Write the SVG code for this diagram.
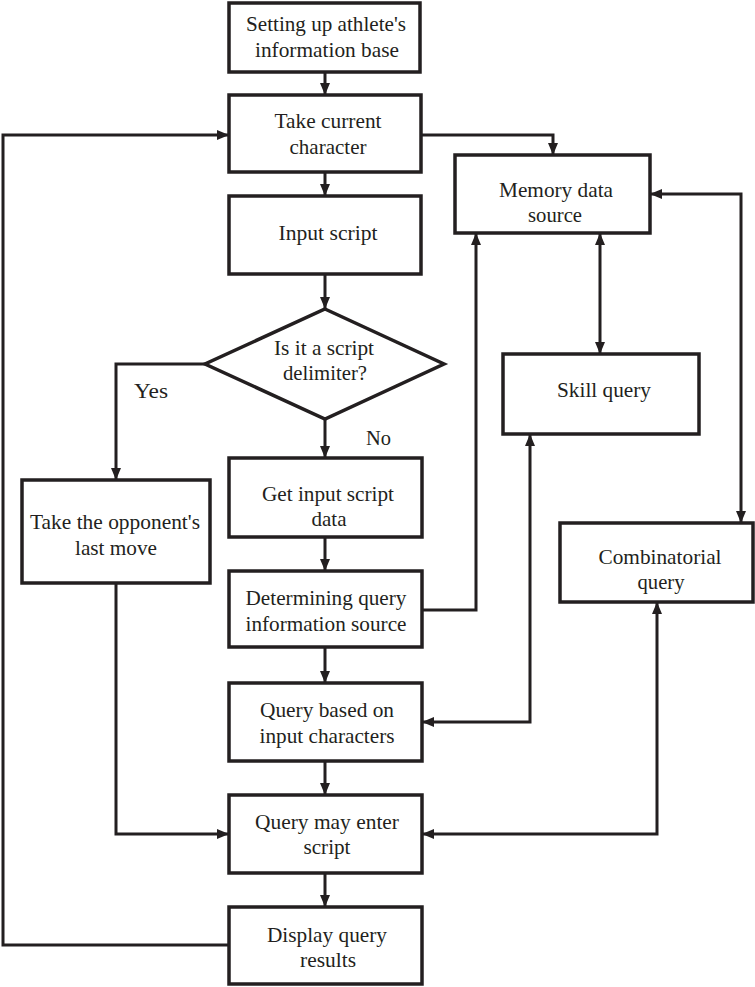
<svg xmlns="http://www.w3.org/2000/svg" width="755" height="987" viewBox="0 0 755 987">
<style>
.box{fill:#fff;stroke:#231f20;stroke-width:3.5}
.ln{fill:none;stroke:#231f20;stroke-width:3}
text{font-family:"Liberation Serif","Times New Roman",serif;font-size:22px;fill:#231f20;text-anchor:middle}
.lbl{text-anchor:start}
</style>
<defs>
<marker id="ah" markerUnits="userSpaceOnUse" viewBox="0 0 12 10" refX="12" refY="5" markerWidth="12" markerHeight="10" orient="auto-start-reverse">
<path d="M0,0 L12,5 L0,10 z" fill="#231f20"/>
</marker>
</defs>
<rect width="755" height="987" fill="#fff"/>
<g id="connectors">
<path class="ln" d="M325,72 V95" marker-end="url(#ah)"/>
<path class="ln" d="M325,172 V196" marker-end="url(#ah)"/>
<path class="ln" d="M325,274 V309" marker-end="url(#ah)"/>
<path class="ln" d="M205,364 H116 V480" marker-end="url(#ah)"/>
<path class="ln" d="M325,419 V458" marker-end="url(#ah)"/>
<path class="ln" d="M325,537 V571" marker-end="url(#ah)"/>
<path class="ln" d="M325,647 V683" marker-end="url(#ah)"/>
<path class="ln" d="M325,761 V795" marker-end="url(#ah)"/>
<path class="ln" d="M325,873 V907" marker-end="url(#ah)"/>
<path class="ln" d="M229,945 H3 V135 H229" marker-end="url(#ah)"/>
<path class="ln" d="M116,583 V834 H229" marker-end="url(#ah)"/>
<path class="ln" d="M421,135 H553 V155" marker-end="url(#ah)"/>
<path class="ln" d="M422,610 H476 V233" marker-end="url(#ah)"/>
<path class="ln" d="M600,233 V354" marker-start="url(#ah)" marker-end="url(#ah)"/>
<path class="ln" d="M530,434 V722 H422" marker-start="url(#ah)" marker-end="url(#ah)"/>
<path class="ln" d="M650,194 H741 V523" marker-start="url(#ah)" marker-end="url(#ah)"/>
<path class="ln" d="M657,602 V834 H422" marker-start="url(#ah)" marker-end="url(#ah)"/>
</g>
<g id="n1"><rect class="box" x="229" y="3" width="191" height="69"/><text x="326" y="31" textLength="160" lengthAdjust="spacingAndGlyphs">Setting up athlete's</text><text x="327" y="57" textLength="144" lengthAdjust="spacingAndGlyphs">information base</text></g>
<g id="n2"><rect class="box" x="229" y="95" width="192" height="77"/><text x="328" y="128" textLength="107" lengthAdjust="spacingAndGlyphs">Take current</text><text x="328" y="154" textLength="77" lengthAdjust="spacingAndGlyphs">character</text></g>
<g id="n3"><rect class="box" x="229" y="196" width="192" height="78"/><text x="328" y="240" textLength="99" lengthAdjust="spacingAndGlyphs">Input script</text></g>
<g id="n4"><polygon class="box" points="325,309 444,364 325,419 205,364"/><text x="324" y="355" textLength="100" lengthAdjust="spacingAndGlyphs">Is it a script</text><text x="325" y="380" textLength="84" lengthAdjust="spacingAndGlyphs">delimiter?</text></g>
<g id="n5"><rect class="box" x="22" y="480" width="188" height="103"/><text x="115" y="529" textLength="170" lengthAdjust="spacingAndGlyphs">Take the opponent's</text><text x="116" y="555" textLength="82" lengthAdjust="spacingAndGlyphs">last move</text></g>
<g id="n6"><rect class="box" x="229" y="458" width="193" height="79"/><text x="328" y="501" textLength="132" lengthAdjust="spacingAndGlyphs">Get input script</text><text x="329" y="526" textLength="35" lengthAdjust="spacingAndGlyphs">data</text></g>
<g id="n7"><rect class="box" x="229" y="571" width="193" height="76"/><text x="326" y="605" textLength="161" lengthAdjust="spacingAndGlyphs">Determining query</text><text x="326" y="631" textLength="161" lengthAdjust="spacingAndGlyphs">information source</text></g>
<g id="n8"><rect class="box" x="229" y="683" width="193" height="78"/><text x="327" y="717" textLength="134" lengthAdjust="spacingAndGlyphs">Query based on</text><text x="327" y="743" textLength="135" lengthAdjust="spacingAndGlyphs">input characters</text></g>
<g id="n9"><rect class="box" x="229" y="795" width="193" height="78"/><text x="327" y="829" textLength="144" lengthAdjust="spacingAndGlyphs">Query may enter</text><text x="327" y="854" textLength="47" lengthAdjust="spacingAndGlyphs">script</text></g>
<g id="n10"><rect class="box" x="229" y="907" width="193" height="77"/><text x="327" y="942" textLength="120" lengthAdjust="spacingAndGlyphs">Display query</text><text x="328" y="967" textLength="56" lengthAdjust="spacingAndGlyphs">results</text></g>
<g id="n11"><rect class="box" x="455" y="155" width="195" height="78"/><text x="556" y="197" textLength="114" lengthAdjust="spacingAndGlyphs">Memory data</text><text x="555" y="222" textLength="54" lengthAdjust="spacingAndGlyphs">source</text></g>
<g id="n12"><rect class="box" x="503" y="354" width="196" height="80"/><text x="604" y="397" textLength="94" lengthAdjust="spacingAndGlyphs">Skill query</text></g>
<g id="n13"><rect class="box" x="560" y="523" width="193" height="79"/><text x="660" y="564" textLength="123" lengthAdjust="spacingAndGlyphs">Combinatorial</text><text x="661" y="589" textLength="47" lengthAdjust="spacingAndGlyphs">query</text></g>
<g id="labels"><text class="lbl" x="134" y="398" textLength="34" lengthAdjust="spacingAndGlyphs">Yes</text><text class="lbl" x="366" y="445" textLength="25" lengthAdjust="spacingAndGlyphs">No</text></g>
</svg>
